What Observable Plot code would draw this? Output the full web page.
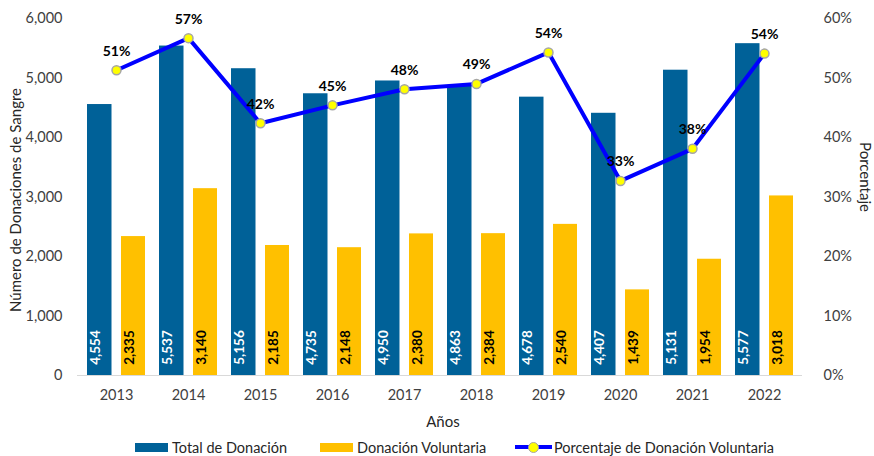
<!DOCTYPE html>
<html>
<head>
<meta charset="utf-8">
<script src="https://cdn.jsdelivr.net/npm/d3@7"></script>
<script src="https://cdn.jsdelivr.net/npm/@observablehq/plot@0.6"></script>
<style>
  body { margin: 0; background: #fff; font-family: Lato, "Noto Sans", sans-serif; }
  #chart { position: relative; width: 874px; height: 456px; }
  .legend { position: absolute; top: 437px; left: 0; width: 874px; height: 20px; font-size: 14.5px; color: #262626; }
  .legend .item { position: absolute; top: 0; display: flex; align-items: center; height: 20px; white-space: nowrap; }
  .sw { width: 33px; height: 9px; margin-right: 4px; }
  .lsw { position: relative; width: 37px; height: 20px; margin-right: 2px; }
  .lsw .ln { position: absolute; left: 0; right: 0; top: 8px; height: 4px; background: #0000ff; }
  .lsw .dt { position: absolute; left: 13px; top: 5px; width: 9px; height: 9px; border-radius: 50%; background: #ffff00; border: 1px solid #a6a6a6; }
</style>
</head>
<body>
<div id="chart"></div>
<script>
const years = ["2013","2014","2015","2016","2017","2018","2019","2020","2021","2022"];
const totalDonacion = [4554, 5537, 5156, 4735, 4950, 4863, 4678, 4407, 5131, 5577];
const donacionVoluntaria = [2335, 3140, 2185, 2148, 2380, 2384, 2540, 1439, 1954, 3018];
const porcentaje = [51.3, 56.7, 42.4, 45.4, 48.1, 49.0, 54.3, 32.7, 38.1, 54.1];
const leftTicks = [0, 1000, 2000, 3000, 4000, 5000, 6000];
const rightTicks = [0, 10, 20, 30, 40, 50, 60];

const BLUE = "#006198";
const GOLD = "#ffc000";
const fmt = d3.format(",");

const rows = years.map((y, i) => ({year: y, total: totalDonacion[i], vol: donacionVoluntaria[i], pct: porcentaje[i]}));

const plot = Plot.plot({
  width: 874,
  height: 432,
  marginLeft: 77,
  marginRight: 72,
  marginTop: 18,
  marginBottom: 57,
  style: {fontFamily: "Lato, 'Noto Sans', sans-serif", background: "#fff", overflow: "visible"},
  x: {type: "band", domain: years, padding: 0},
  y: {domain: [0, 6000]},
  marks: [
    Plot.barY(rows, {x: "year", y: "total", fill: BLUE, insetLeft: 7, insetRight: 40.5, ariaLabel: "bar-total"}),
    Plot.barY(rows, {x: "year", y: "vol", fill: GOLD, insetLeft: 41, insetRight: 7, ariaLabel: "bar-vol"}),
    Plot.ruleY([0], {stroke: "#d9d9d9", strokeWidth: 1}),
    Plot.axisX({tickSize: 0, tickPadding: 14, fontSize: 14.5, color: "#404040", label: null}),
    Plot.axisY({anchor: "left", ticks: leftTicks, tickSize: 0, tickPadding: 15, tickFormat: d3.format(","), fontSize: 14.5, color: "#404040", label: null}),
    Plot.axisY({anchor: "right", ticks: rightTicks.map(t => t * 100), tickSize: 0, tickPadding: 21, tickFormat: d => (d / 100) + "%", fontSize: 14.5, color: "#404040", label: null}),
    Plot.text(rows, {x: "year", text: d => fmt(d.total), frameAnchor: "bottom", dy: -28, dx: -17, rotate: -90, textAnchor: "middle", fill: "#fff", fontWeight: "bold", fontSize: 13.5}),
    Plot.text(rows, {x: "year", text: d => fmt(d.vol), frameAnchor: "bottom", dy: -28, dx: 17, rotate: -90, textAnchor: "middle", fill: "#000", fontWeight: "bold", fontSize: 13.5}),
    Plot.line(rows, {x: "year", y: d => d.pct * 100, stroke: "#0000ff", strokeWidth: 4}),
    Plot.dot(rows, {x: "year", y: d => d.pct * 100, r: 4.5, fill: "#ffff00", stroke: "#a6a6a6", strokeWidth: 1.5}),
    Plot.text(rows, {x: "year", y: d => d.pct * 100, text: d => Math.round(d.pct) + "%", dy: -19, fill: "#000", fontWeight: "bold", fontSize: 14}),
    Plot.text(["Número de Donaciones de Sangre"], {frameAnchor: "left", textAnchor: "middle", dx: -61, dy: 3, rotate: -90, fontSize: 15, fill: "#262626"}),
    Plot.text(["Porcentaje"], {frameAnchor: "right", textAnchor: "middle", dx: 62, dy: -20, rotate: 90, fontSize: 15, fill: "#262626"}),
    Plot.text(["Años"], {frameAnchor: "bottom", textAnchor: "middle", dy: 51, dx: 3, fontSize: 15, fill: "#262626"})
  ]
});

// subtle Excel-like bar shadow
const svg = d3.select(plot);
const defs = svg.insert("defs", ":first-child");
const f = defs.append("filter").attr("id", "barshadow").attr("x", "-30%").attr("y", "-10%").attr("width", "160%").attr("height", "120%");
f.append("feDropShadow").attr("dx", -2).attr("dy", 1).attr("stdDeviation", 1.2).attr("flood-color", "#000").attr("flood-opacity", 0.25);
svg.selectAll('g[aria-label="bar-total"], g[aria-label="bar-vol"]').attr("filter", "url(#barshadow)");

const chart = document.getElementById("chart");
chart.appendChild(plot);

const legend = document.createElement("div");
legend.className = "legend";
legend.innerHTML = `
  <div class="item" style="left:135px"><div class="sw" style="background:${BLUE}"></div>Total de Donación</div>
  <div class="item" style="left:320px"><div class="sw" style="background:${GOLD}"></div>Donación Voluntaria</div>
  <div class="item" style="left:515px"><div class="lsw"><div class="ln"></div><div class="dt"></div></div>Porcentaje de Donación Voluntaria</div>
`;
chart.appendChild(legend);
</script>
</body>
</html>
